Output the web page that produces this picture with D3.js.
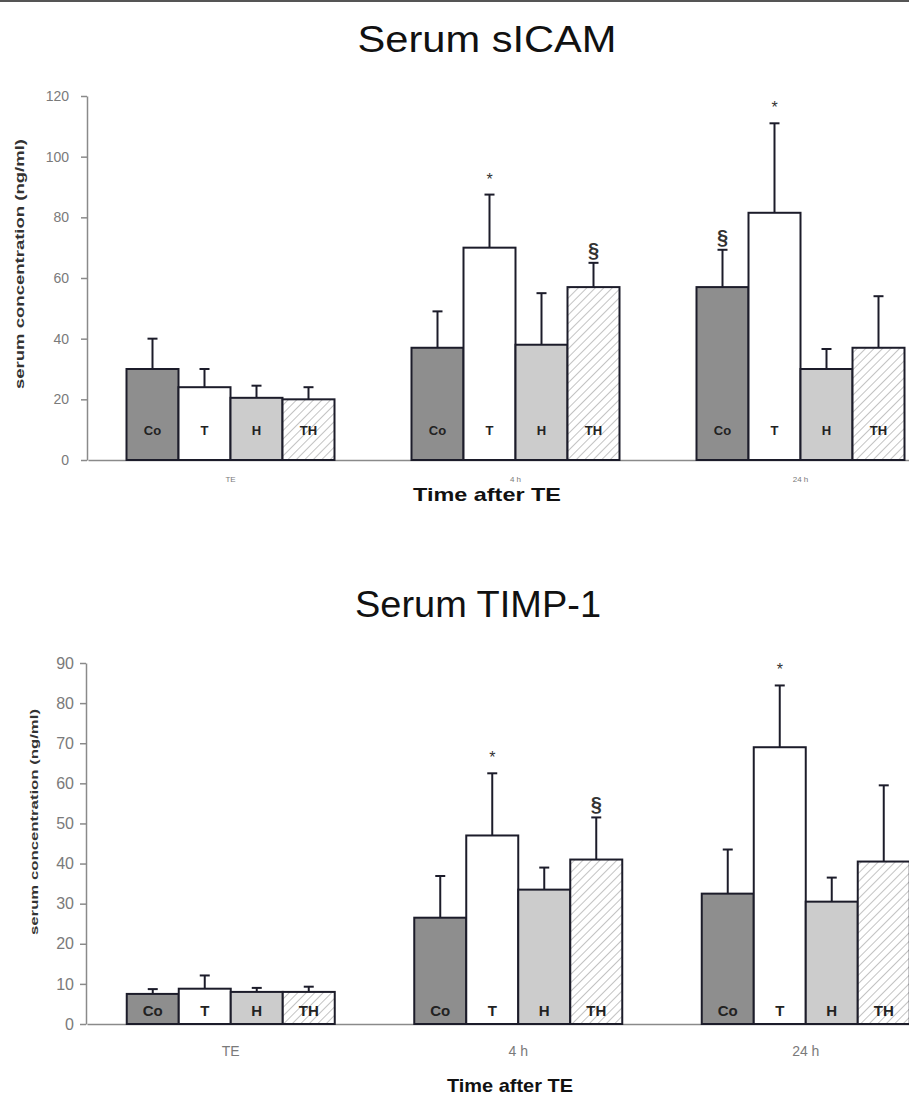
<!DOCTYPE html>
<html>
<head>
<meta charset="utf-8">
<script src="https://cdn.jsdelivr.net/npm/d3@7"></script>
<style>
  body { margin: 0; background: #fff; }
  svg { display: block; font-family: "Liberation Sans", Arial, sans-serif; }
</style>
</head>
<body>
<svg id="chart" width="909" height="1096"></svg>
<script>
// groups on the x axis and the four treatments in each group
const groups = ["TE", "4 h", "24 h"];
const treatments = ["Co", "T", "H", "TH"];

// Serum sICAM (ng/ml): mean and error per group, per treatment
const sicamMean = [[30, 24, 20.5, 20], [37, 70, 38, 57], [57, 81.5, 30, 37]];
const sicamErr = [[10, 6, 4, 4], [12, 17.5, 17, 8], [12.3, 29.5, 6.6, 17]];
const sicamMarks = [["4 h", "T", "*"], ["4 h", "TH", "§"], ["24 h", "Co", "§"], ["24 h", "T", "*"]];

// Serum TIMP-1 (ng/ml)
const timpMean = [[7.5, 8.8, 8, 8], [26.5, 47, 33.5, 41], [32.5, 69, 30.5, 40.5]];
const timpErr = [[1.2, 3.3, 1, 1.3], [10.4, 15.5, 5.5, 10.5], [11, 15.4, 6, 19]];
const timpMarks = [["4 h", "T", "*"], ["4 h", "TH", "§"], ["24 h", "T", "*"]];

const svg = d3.select("#chart");
const fills = { Co: "#8e8e8e", T: "#ffffff", H: "#cccccc", TH: "url(#hatch)" };
const ink = "#1c1c2a";

// diagonal hatch for TH
const pat = svg.append("defs").append("pattern")
  .attr("id", "hatch")
  .attr("patternUnits", "userSpaceOnUse")
  .attr("width", 6).attr("height", 6)
  .attr("patternTransform", "rotate(45)");
pat.append("rect").attr("width", 6).attr("height", 6).attr("fill", "#fff");
pat.append("line").attr("x1", 0).attr("y1", 0).attr("x2", 0).attr("y2", 6)
  .attr("stroke", "#b4b4b4").attr("stroke-width", 1.6);

// thin frame line at the very top
svg.append("line").attr("x1", 0).attr("x2", 909).attr("y1", 1).attr("y2", 1)
  .attr("stroke", "#555").attr("stroke-width", 2);

function drawPanel(o) {
  const y = d3.scaleLinear().domain([0, o.max]).range([o.y0, o.y1]);
  const x = d3.scaleBand().domain(groups).range([o.x0, o.x0 + 3 * o.step]);
  const xi = d3.scaleBand().domain(treatments).range([-104, 104]);

  const rows = [];
  groups.forEach((g, i) => treatments.forEach((t, j) => {
    rows.push({ g, t, v: o.mean[i][j], e: o.err[i][j] });
  }));
  const cx = d => x(d.g) + x.bandwidth() / 2 + xi(d.t);

  // title
  svg.append("text")
    .attr("x", o.titleX).attr("y", o.titleY)
    .attr("text-anchor", "middle")
    .attr("font-size", 36).attr("fill", "#111")
    .attr("textLength", o.titleLen).attr("lengthAdjust", "spacingAndGlyphs")
    .text(o.title);

  // y axis
  const ya = svg.append("g")
    .attr("transform", `translate(${o.x0 - 1},0)`)
    .call(d3.axisLeft(y).ticks(o.ticks).tickSize(6).tickSizeOuter(0).tickPadding(o.tickPad));
  ya.selectAll("path, line").attr("stroke", "#8a8a8a").attr("stroke-width", 1.5);
  ya.selectAll("text").attr("fill", "#7a7a7a").attr("font-size", o.tickFont)
    .attr("font-family", "Liberation Sans, Arial, sans-serif");

  // x axis line and category labels
  const xa = svg.append("g")
    .attr("transform", `translate(0,${o.y0})`)
    .call(d3.axisBottom(x).tickSize(0).tickSizeOuter(0).tickPadding(o.xPad));
  xa.select("path").attr("stroke", "#8a8a8a").attr("stroke-width", 1.5);
  xa.selectAll("text").attr("fill", "#7a7a7a").attr("font-size", o.xFont)
    .attr("font-family", "Liberation Sans, Arial, sans-serif");

  // error bars
  const eb = svg.append("g").attr("stroke", ink).attr("stroke-width", 2);
  eb.selectAll("line.v").data(rows).enter().append("line")
    .attr("x1", d => cx(d) + xi.bandwidth() / 2).attr("x2", d => cx(d) + xi.bandwidth() / 2)
    .attr("y1", d => y(d.v)).attr("y2", d => y(d.v + d.e));
  eb.selectAll("line.c").data(rows).enter().append("line")
    .attr("x1", d => cx(d) + xi.bandwidth() / 2 - 5).attr("x2", d => cx(d) + xi.bandwidth() / 2 + 5)
    .attr("y1", d => y(d.v + d.e)).attr("y2", d => y(d.v + d.e));

  // bars
  svg.append("g").selectAll("rect").data(rows).enter().append("rect")
    .attr("x", d => cx(d)).attr("width", xi.bandwidth())
    .attr("y", d => y(d.v)).attr("height", d => y(0) - y(d.v))
    .attr("fill", d => fills[d.t])
    .attr("stroke", ink).attr("stroke-width", 2);

  // treatment labels inside bars
  svg.append("g").selectAll("text").data(rows).enter().append("text")
    .attr("x", d => cx(d) + xi.bandwidth() / 2)
    .attr("y", o.y0 - o.labelLift)
    .attr("text-anchor", "middle")
    .attr("font-size", o.labelFont).attr("font-weight", "bold").attr("fill", "#222")
    .text(d => d.t);

  // significance marks
  svg.append("g").selectAll("text").data(o.marks).enter().append("text")
    .attr("x", m => x(m[0]) + x.bandwidth() / 2 + xi(m[1]) + xi.bandwidth() / 2)
    .attr("y", m => {
      const i = groups.indexOf(m[0]), j = treatments.indexOf(m[1]);
      return y(o.mean[i][j] + o.err[i][j]) - (m[2] === "*" ? 10 : 6);
    })
    .attr("text-anchor", "middle")
    .attr("font-size", m => m[2] === "*" ? 16 : 20)
    .attr("font-weight", m => m[2] === "*" ? "normal" : "bold")
    .attr("fill", "#333")
    .text(m => m[2]);

  // axis titles
  svg.append("text")
    .attr("transform", `translate(${o.yLabX},${o.yLabY}) rotate(-90)`)
    .attr("text-anchor", "middle")
    .attr("font-size", o.yLabFont).attr("font-weight", "bold").attr("fill", "#333")
    .attr("textLength", o.yLabLen).attr("lengthAdjust", "spacingAndGlyphs")
    .text("serum concentration  (ng/ml)");
  svg.append("text")
    .attr("x", o.xTitleX).attr("y", o.xTitleY)
    .attr("text-anchor", "middle")
    .attr("font-size", 19).attr("font-weight", "bold").attr("fill", "#111")
    .attr("textLength", o.xTitleLen).attr("lengthAdjust", "spacingAndGlyphs")
    .text("Time after TE");
}

drawPanel({
  title: "Serum sICAM", titleX: 487, titleY: 52, titleLen: 259,
  mean: sicamMean, err: sicamErr, marks: sicamMarks,
  max: 120, ticks: 6, y0: 460, y1: 96, x0: 88, step: 285,
  tickFont: 14, tickPad: 12, xFont: 8, xPad: 16,
  labelFont: 13, labelLift: 25,
  yLabX: 24, yLabY: 264, yLabFont: 13, yLabLen: 250,
  xTitleX: 487, xTitleY: 501, xTitleLen: 148
});

drawPanel({
  title: "Serum TIMP-1", titleX: 478, titleY: 617, titleLen: 246,
  mean: timpMean, err: timpErr, marks: timpMarks,
  max: 90, ticks: 10, y0: 1024, y1: 663, x0: 87, step: 287.5,
  tickFont: 16, tickPad: 6, xFont: 14, xPad: 22,
  labelFont: 15, labelLift: 8,
  yLabX: 38, yLabY: 822, yLabFont: 11, yLabLen: 226,
  xTitleX: 510, xTitleY: 1092, xTitleLen: 126
});
</script>
</body>
</html>
